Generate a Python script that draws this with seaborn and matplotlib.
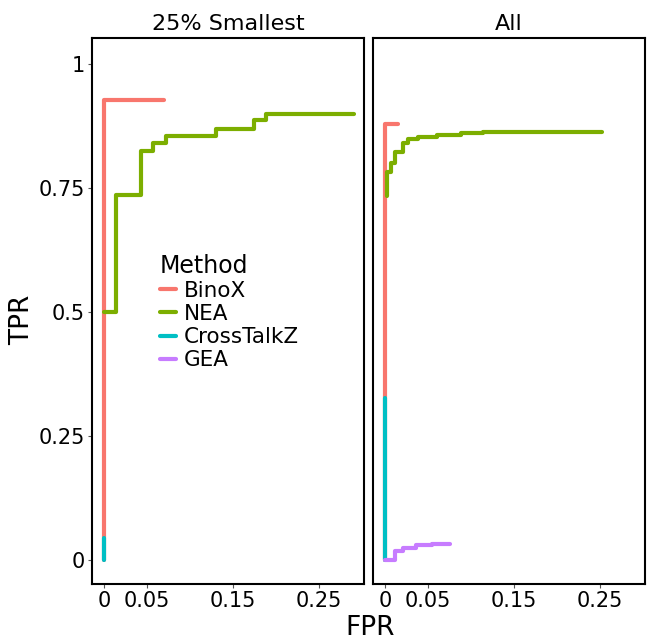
import numpy as np
import pandas as pd
import matplotlib
matplotlib.use("Agg")
import matplotlib.pyplot as plt
import seaborn as sns

# ROC step points (FPR, TPR)
panels = ["25% Smallest", "All"]
methods = ["BinoX", "NEA", "CrossTalkZ", "GEA"]
colors = ["#F8766D", "#7CAE00", "#00BFC4", "#C77CFF"]

small_binox_fpr = [0, 0, 0.07]
small_binox_tpr = [0, 0.927, 0.927]
small_nea_fpr = [0, 0.0136, 0.0427, 0.0574, 0.072, 0.130, 0.174, 0.188, 0.29]
small_nea_tpr = [0.5, 0.736, 0.825, 0.840, 0.855, 0.869, 0.886, 0.899, 0.899]
small_ctz_fpr = [0, 0]
small_ctz_tpr = [0, 0.044]

all_binox_fpr = [0, 0, 0.015]
all_binox_tpr = [0, 0.878, 0.878]
all_nea_fpr = [0.0023, 0.0023, 0.0074, 0.011, 0.021, 0.027, 0.038, 0.06, 0.088, 0.114, 0.2515]
all_nea_tpr = [0.733, 0.783, 0.801, 0.822, 0.841, 0.848, 0.853, 0.857, 0.860, 0.863, 0.863]
all_ctz_fpr = [0, 0]
all_ctz_tpr = [0, 0.327]
all_gea_fpr = [0, 0.012, 0.021, 0.036, 0.054, 0.076]
all_gea_tpr = [0, 0.018, 0.025, 0.030, 0.033, 0.033]

curves = [
    ("25% Smallest", "BinoX", small_binox_fpr, small_binox_tpr),
    ("25% Smallest", "NEA", small_nea_fpr, small_nea_tpr),
    ("25% Smallest", "CrossTalkZ", small_ctz_fpr, small_ctz_tpr),
    ("All", "BinoX", all_binox_fpr, all_binox_tpr),
    ("All", "NEA", all_nea_fpr, all_nea_tpr),
    ("All", "CrossTalkZ", all_ctz_fpr, all_ctz_tpr),
    ("All", "GEA", all_gea_fpr, all_gea_tpr),
]
rows = []
for panel, method, fpr, tpr in curves:
    for f, t in zip(fpr, tpr):
        rows.append({"panel": panel, "Method": method, "FPR": f, "TPR": t})
df = pd.DataFrame(rows)

sns.set_style("white")
plt.rcParams["font.family"] = ["DejaVu Sans"]
plt.rcParams["text.color"] = "black"
plt.rcParams["axes.labelcolor"] = "black"
plt.rcParams["xtick.color"] = "black"
plt.rcParams["ytick.color"] = "black"

fig = plt.figure(figsize=(6.48, 6.43), dpi=100)
ax1 = fig.add_axes([92 / 648, 1 - 584 / 643, 272 / 648, 546 / 643])
ax2 = fig.add_axes([373 / 648, 1 - 584 / 643, 272 / 648, 546 / 643])
palette = dict(zip(methods, colors))

for ax, panel in zip([ax1, ax2], panels):
    sub = df[df["panel"] == panel]
    sns.lineplot(data=sub, x="FPR", y="TPR", hue="Method", hue_order=methods,
                 palette=palette, estimator=None, drawstyle="steps-post",
                 linewidth=3, ax=ax, legend=(ax is ax1))
    ax.set_xlim(-0.014, 0.302)
    ax.set_ylim(-0.048, 1.052)
    ax.set_xticks([0, 0.05, 0.15, 0.25])
    ax.set_xticklabels(["0", "0.05", "0.15", "0.25"])
    ax.set_yticks([0, 0.25, 0.5, 0.75, 1])
    ax.set_xlabel("")
    ax.set_ylabel("")
    ax.set_title(panel, fontsize=16, pad=6, color="black")
    for s in ax.spines.values():
        s.set_color("black")
        s.set_linewidth(1.5)
    ax.tick_params(axis="both", labelsize=15, length=3, width=0.8, color="#555555",
                   labelcolor="black", bottom=True, left=True, pad=2)

ax1.set_yticklabels(["0", "0.25", "0.5", "0.75", "1"])
ax2.set_yticklabels([])
ax2.tick_params(axis="y", left=False)

leg = ax1.legend(title="Method", loc="upper left", bbox_to_anchor=(0.21, 0.625),
                 frameon=False, fontsize=15.5, title_fontsize=17, handlelength=0.75,
                 handletextpad=0.35, labelspacing=0.15, borderpad=0, alignment="left")
for line in leg.get_lines():
    line.set_linewidth(3)

fig.text(22 / 648, 1 - 320 / 643, "TPR", rotation=90, ha="center", va="center", fontsize=19)
fig.text(370 / 648, 1 - 628 / 643, "FPR", ha="center", va="center", fontsize=19)

fig.savefig("out.png", dpi=100)
